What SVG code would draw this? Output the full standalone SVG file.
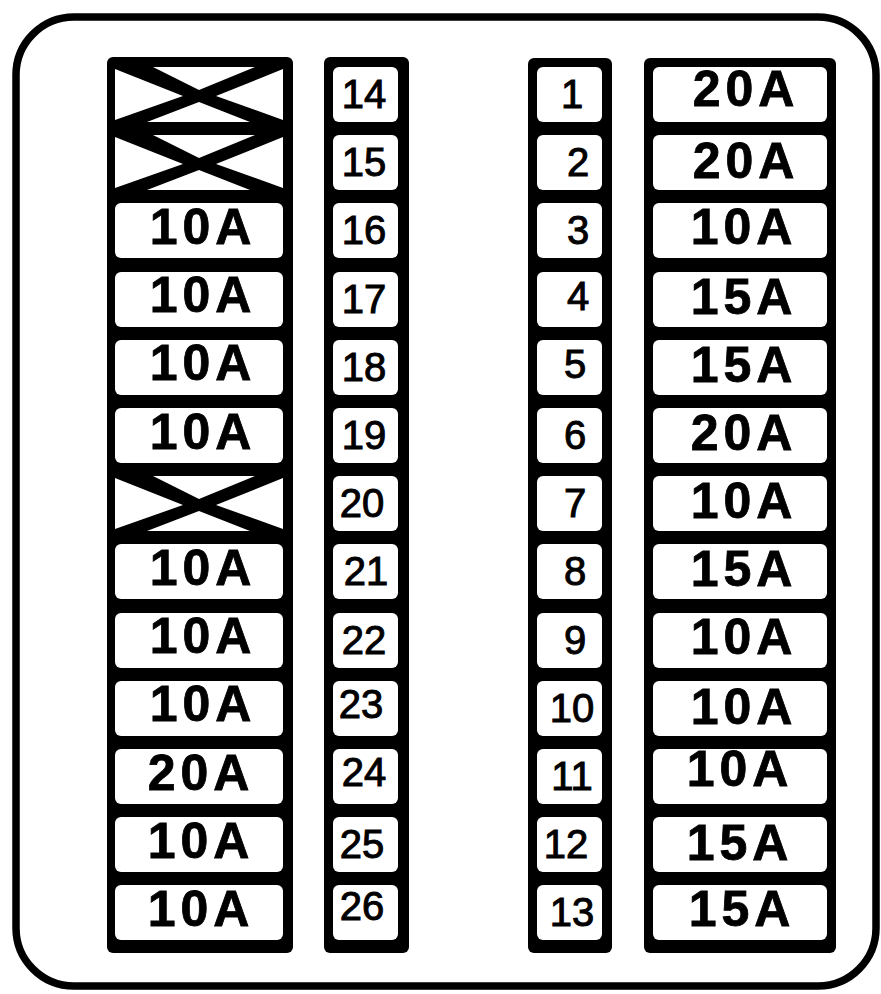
<svg xmlns="http://www.w3.org/2000/svg" xmlns:xlink="http://www.w3.org/1999/xlink" width="881" height="994" viewBox="0 0 881 994">
<style>
.frame{fill:#000}
.box{fill:#fff}
.amp{font-family:"Liberation Sans",Arial,sans-serif;font-weight:bold;font-size:50px;letter-spacing:5px;fill:#000;stroke:#000;stroke-width:0.8px;text-anchor:middle}
.num{font-family:"Liberation Sans",Arial,sans-serif;font-size:40px;fill:#000;stroke:#000;stroke-width:1px;text-anchor:middle}
</style>
<defs>
<path id="xmark" fill="#fff" d="M38,0 L140,0 L84,23 Z M32,55 L135,55 L84,35 Z M0,2 L0,53 L68,29 Z M168,2 L168,53 L101,29 Z"/>
</defs>
<rect x="0" y="0" width="881" height="994" fill="#fff"/>
<rect id="housing" x="16" y="17" width="860" height="969" rx="58" fill="#fff" stroke="#000" stroke-width="7.5"/>
<g id="connectors"/>
<g id="frames">
<rect class="frame" x="107" y="57" width="186" height="896" rx="6"/>
<rect class="frame" x="324" y="57" width="85" height="896" rx="6"/>
<rect class="frame" x="528" y="58" width="84" height="895" rx="6"/>
<rect class="frame" x="644" y="58" width="192" height="895" rx="6"/>
</g>
<!-- left column -->
<g id="L1"><use xlink:href="#xmark" x="115" y="67"/></g>
<g id="L2"><use xlink:href="#xmark" x="115" y="135"/></g>
<g id="L3"><rect class="box" x="115" y="203" width="168" height="55" rx="6"/><text class="amp" x="203" y="244">10A</text></g>
<g id="L4"><rect class="box" x="115" y="272" width="168" height="55" rx="6"/><text class="amp" x="203" y="312">10A</text></g>
<g id="L5"><rect class="box" x="115" y="340" width="168" height="55" rx="6"/><text class="amp" x="203" y="380">10A</text></g>
<g id="L6"><rect class="box" x="115" y="408" width="168" height="55" rx="6"/><text class="amp" x="203" y="449">10A</text></g>
<g id="L7"><use xlink:href="#xmark" x="115" y="476"/></g>
<g id="L8"><rect class="box" x="115" y="544" width="168" height="55" rx="6"/><text class="amp" x="203" y="585">10A</text></g>
<g id="L9"><rect class="box" x="115" y="613" width="168" height="55" rx="6"/><text class="amp" x="203" y="653">10A</text></g>
<g id="L10"><rect class="box" x="115" y="681" width="168" height="55" rx="6"/><text class="amp" x="203" y="721">10A</text></g>
<g id="L11"><rect class="box" x="115" y="749" width="168" height="55" rx="6"/><text class="amp" x="201" y="790">20A</text></g>
<g id="L12"><rect class="box" x="115" y="817" width="168" height="55" rx="6"/><text class="amp" x="201" y="858">10A</text></g>
<g id="L13"><rect class="box" x="115" y="885" width="168" height="55" rx="6"/><text class="amp" x="201" y="926">10A</text></g>
<!-- column 14-26 -->
<g id="F14"><rect class="box" x="333" y="67" width="65" height="55" rx="6"/><text class="num" x="364" y="108">14</text></g>
<g id="F15"><rect class="box" x="333" y="135" width="65" height="55" rx="6"/><text class="num" x="364" y="176">15</text></g>
<g id="F16"><rect class="box" x="333" y="203" width="65" height="55" rx="6"/><text class="num" x="364" y="244">16</text></g>
<g id="F17"><rect class="box" x="333" y="272" width="65" height="55" rx="6"/><text class="num" x="364" y="313">17</text></g>
<g id="F18"><rect class="box" x="333" y="340" width="65" height="55" rx="6"/><text class="num" x="364" y="381">18</text></g>
<g id="F19"><rect class="box" x="333" y="408" width="65" height="55" rx="6"/><text class="num" x="364" y="449">19</text></g>
<g id="F20"><rect class="box" x="333" y="476" width="65" height="55" rx="6"/><text class="num" x="362" y="517">20</text></g>
<g id="F21"><rect class="box" x="333" y="544" width="65" height="55" rx="6"/><text class="num" x="366" y="585">21</text></g>
<g id="F22"><rect class="box" x="333" y="613" width="65" height="55" rx="6"/><text class="num" x="364" y="654">22</text></g>
<g id="F23"><rect class="box" x="333" y="681" width="65" height="55" rx="6"/><text class="num" x="361" y="718">23</text></g>
<g id="F24"><rect class="box" x="333" y="749" width="65" height="55" rx="6"/><text class="num" x="364" y="786">24</text></g>
<g id="F25"><rect class="box" x="333" y="817" width="65" height="55" rx="6"/><text class="num" x="362" y="858">25</text></g>
<g id="F26"><rect class="box" x="333" y="885" width="65" height="55" rx="6"/><text class="num" x="362" y="920">26</text></g>
<!-- column 1-13 -->
<g id="F1"><rect class="box" x="537" y="67" width="65" height="55" rx="6"/><text class="num" x="572" y="108">1</text></g>
<g id="F2"><rect class="box" x="537" y="135" width="65" height="55" rx="6"/><text class="num" x="578" y="176">2</text></g>
<g id="F3"><rect class="box" x="537" y="203" width="65" height="55" rx="6"/><text class="num" x="578" y="244">3</text></g>
<g id="F4"><rect class="box" x="537" y="272" width="65" height="55" rx="6"/><text class="num" x="578" y="310">4</text></g>
<g id="F5"><rect class="box" x="537" y="340" width="65" height="55" rx="6"/><text class="num" x="575" y="378">5</text></g>
<g id="F6"><rect class="box" x="537" y="408" width="65" height="55" rx="6"/><text class="num" x="575" y="449">6</text></g>
<g id="F7"><rect class="box" x="537" y="476" width="65" height="55" rx="6"/><text class="num" x="575" y="517">7</text></g>
<g id="F8"><rect class="box" x="537" y="544" width="65" height="55" rx="6"/><text class="num" x="575" y="585">8</text></g>
<g id="F9"><rect class="box" x="537" y="613" width="65" height="55" rx="6"/><text class="num" x="575" y="654">9</text></g>
<g id="F10"><rect class="box" x="537" y="681" width="65" height="55" rx="6"/><text class="num" x="572" y="722">10</text></g>
<g id="F11"><rect class="box" x="537" y="749" width="65" height="55" rx="6"/><text class="num" x="572" y="790">11</text></g>
<g id="F12"><rect class="box" x="537" y="817" width="65" height="55" rx="6"/><text class="num" x="566" y="858">12</text></g>
<g id="F13"><rect class="box" x="537" y="885" width="65" height="55" rx="6"/><text class="num" x="572" y="926">13</text></g>
<!-- right amps column -->
<g id="R1"><rect class="box" x="653" y="67" width="174" height="55" rx="6"/><text class="amp" x="746" y="106">20A</text></g>
<g id="R2"><rect class="box" x="653" y="135" width="174" height="55" rx="6"/><text class="amp" x="746" y="178">20A</text></g>
<g id="R3"><rect class="box" x="653" y="203" width="174" height="55" rx="6"/><text class="amp" x="744" y="244">10A</text></g>
<g id="R4"><rect class="box" x="653" y="272" width="174" height="55" rx="6"/><text class="amp" x="744" y="314">15A</text></g>
<g id="R5"><rect class="box" x="653" y="340" width="174" height="55" rx="6"/><text class="amp" x="744" y="382">15A</text></g>
<g id="R6"><rect class="box" x="653" y="408" width="174" height="55" rx="6"/><text class="amp" x="744" y="450">20A</text></g>
<g id="R7"><rect class="box" x="653" y="476" width="174" height="55" rx="6"/><text class="amp" x="744" y="518">10A</text></g>
<g id="R8"><rect class="box" x="653" y="544" width="174" height="55" rx="6"/><text class="amp" x="744" y="586">15A</text></g>
<g id="R9"><rect class="box" x="653" y="613" width="174" height="55" rx="6"/><text class="amp" x="744" y="654">10A</text></g>
<g id="R10"><rect class="box" x="653" y="681" width="174" height="55" rx="6"/><text class="amp" x="744" y="724">10A</text></g>
<g id="R11"><rect class="box" x="653" y="749" width="174" height="55" rx="6"/><text class="amp" x="740" y="786">10A</text></g>
<g id="R12"><rect class="box" x="653" y="817" width="174" height="55" rx="6"/><text class="amp" x="740" y="860">15A</text></g>
<g id="R13"><rect class="box" x="653" y="885" width="174" height="55" rx="6"/><text class="amp" x="742" y="926">15A</text></g>
</svg>
